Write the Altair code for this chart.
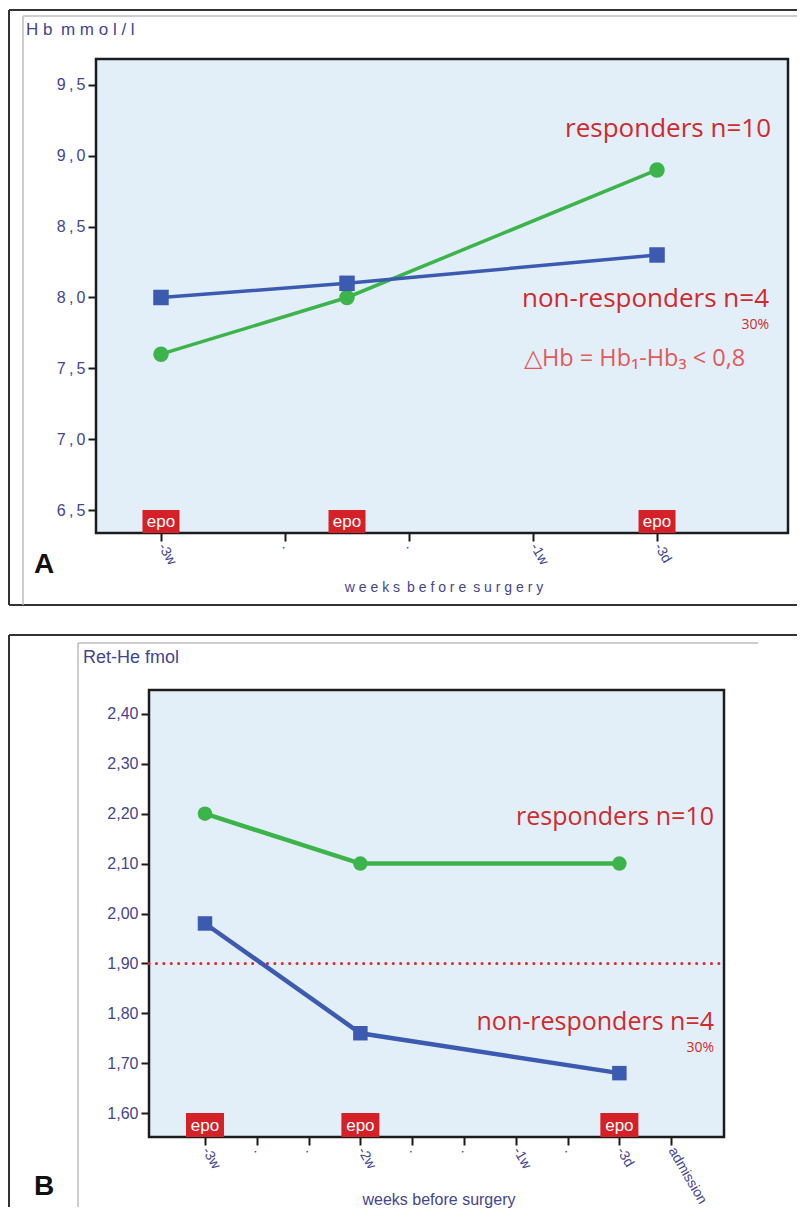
import json
import altair as alt
import pandas as pd

# ---------------- data ----------------
groups = ["responders", "non-responders"]

# Panel A: Hb (mmol/l)
a_weeks = [0, 1.5, 4]
a_hb_responders = [7.6, 8.0, 8.9]
a_hb_nonresponders = [8.0, 8.1, 8.3]
a_epo_weeks = [0, 1.5, 4]
a_x_ticks = [0, 1, 2, 3, 4]
a_x_labels = ["-3w", ".", ".", "-1w", "-3d"]
a_y_ticks = [6.5, 7.0, 7.5, 8.0, 8.5, 9.0, 9.5]

# Panel B: Ret-He (fmol)
b_weeks = [0, 3, 8]
b_rethe_responders = [2.20, 2.10, 2.10]
b_rethe_nonresponders = [1.98, 1.76, 1.68]
b_epo_weeks = [0, 3, 8]
b_threshold = [1.90]
b_x_ticks = [0, 1, 2, 3, 4, 5, 6, 7, 8, 9]
b_x_labels = ["-3w", ".", ".", "-2w", ".", ".", "-1w", ".", "-3d", "admission"]
b_y_ticks = [1.6, 1.7, 1.8, 1.9, 2.0, 2.1, 2.2, 2.3, 2.4]

# ---------------- styles ----------------
GREEN = "#3cb44b"
BLUE = "#3c5bb0"
RED = "#cf2a2e"
LIGHTRED = "#e05a5a"
EPO = "#d42027"
NAVY = "#45458f"
BG = "#e3eff8"
FRAME = "#333333"
INNER = "#bdbdbd"
SANS = "Liberation Sans"
ANN = "Open Sans"


def long_df(weeks, resp, nonresp):
    rows = []
    for w, v in zip(weeks, resp):
        rows.append({"week": w, "value": v, "group": "responders"})
    for w, v in zip(weeks, nonresp):
        rows.append({"week": w, "value": v, "group": "non-responders"})
    return pd.DataFrame(rows)


def one():
    return pd.DataFrame({"k": [0]})


def rule(x1, x2, y1, y2, color, width):
    return alt.Chart(one()).mark_rule(color=color, strokeWidth=width).encode(
        x=alt.value(x1), x2=alt.value(x2), y=alt.value(y1), y2=alt.value(y2)
    )


def plotbox(x1, x2, h):
    return alt.Chart(one()).mark_rect(fill=BG, stroke="#1c1c1c", strokeWidth=2.5).encode(
        x=alt.value(x1), x2=alt.value(x2), y=alt.value(0), y2=alt.value(h)
    )


def label(text, x, y, size, color, align="left", font=SANS, weight="normal"):
    return alt.Chart(one()).mark_text(
        text=text, align=align, baseline="alphabetic", fontSize=size,
        color=color, font=font, fontWeight=weight
    ).encode(x=alt.value(x), y=alt.value(y))


def spaced(s):
    return "\u2002".join(" ".join(list(w)) for w in s.split(" "))


def panel(df, epo_weeks, H, xdom, ydom, xticks, xlabels, yticks, ylabel_expr,
          line_w, pt_size, box_w, box_h, tick_font, ylab_size, y_offset=0):
    xscale = alt.Scale(domain=xdom, nice=False, zero=False)
    yscale = alt.Scale(domain=ydom, nice=False, zero=False)
    xaxis = alt.Axis(
        values=xticks, labelExpr=json.dumps(xlabels) + "[datum.value]", title=None,
        grid=False, domain=False, tickColor="#1a1a1a", tickWidth=2, tickSize=8,
        labelAngle=60, labelColor=NAVY, labelFontSize=tick_font, labelFont=SANS,
        labelPadding=3, labelOverlap=False, labelBound=False
    )
    yaxis = alt.Axis(
        values=yticks, labelExpr=ylabel_expr, title=None, grid=False, domain=False,
        tickColor="#1a1a1a", tickWidth=2, tickSize=8, labelColor=NAVY,
        labelFontSize=ylab_size, labelFont=SANS, labelPadding=3, labelOverlap=False,
        offset=y_offset
    )
    color = alt.Color("group:N", scale=alt.Scale(domain=groups, range=[GREEN, BLUE]), legend=None)
    shape = alt.Shape("group:N", scale=alt.Scale(domain=groups, range=["circle", "square"]), legend=None)

    base = alt.Chart(df)
    lines = base.mark_line(strokeWidth=line_w).encode(
        x=alt.X("week:Q", scale=xscale, axis=xaxis),
        y=alt.Y("value:Q", scale=yscale, axis=yaxis),
        color=color, detail="group:N",
    )
    points = base.mark_point(filled=True, opacity=1, size=pt_size).encode(
        x="week:Q", y="value:Q", color=color, shape=shape
    )
    epo_df = pd.DataFrame({"week": epo_weeks})
    r = box_h / box_w
    box_shape = f"M-1,-{r:.4f}L1,-{r:.4f}L1,{r:.4f}L-1,{r:.4f}Z"
    boxes = alt.Chart(epo_df).mark_point(
        shape=box_shape, filled=True, opacity=1, size=box_w * box_w, color=EPO, strokeWidth=0
    ).encode(x="week:Q", y=alt.value(H - box_h / 2))
    epo_txt = alt.Chart(epo_df).mark_text(
        text="epo", color="white", fontSize=17, font=SANS, baseline="middle"
    ).encode(x="week:Q", y=alt.value(H - box_h / 2 + 0.5))
    return lines, points, boxes, epo_txt


# ---------------- panel A (plot origin = page (95, 59)) ----------------
WA, HA = 692, 474
dfA = long_df(a_weeks, a_hb_responders, a_hb_nonresponders)
linesA, pointsA, boxesA, epoA = panel(
    dfA, a_epo_weeks, HA, [-0.524, 5.056], [6.338, 9.683], a_x_ticks, a_x_labels,
    a_y_ticks, "replace(format(datum.value, '.1f'), '.', '\u2009,\u2009')",
    3.5, 240, 37, 23, 14, 16
)
chartA = alt.layer(
    plotbox(0, WA, HA),
    rule(-87, 701, -49, -49, FRAME, 2),
    rule(-87, 701, 546, 546, FRAME, 2),
    rule(-87, -87, -49, 546, FRAME, 2),
    rule(-73, 701, -43, -43, INNER, 1.5),
    rule(-73, -73, -43, 546, INNER, 1.5),
    label(spaced("Hb mmol/l"), -70, -24, 17, NAVY),
    label(spaced("weeks before surgery"), 348, 533, 14, NAVY, align="center"),
    label("A", -62, 514, 28, "#111111", font=SANS, weight="bold"),
    label("responders n=10", 675, 78, 26, RED, align="right", font=ANN),
    label("non-responders n=4", 673, 248, 26, RED, align="right", font=ANN),
    label("30%", 673, 270, 14, RED, align="right", font=ANN),
    label("\u25b3Hb = Hb\u2081-Hb\u2083 < 0,8", 428, 307, 23.5, LIGHTRED, font=ANN),
    boxesA, epoA, linesA, pointsA,
).properties(width=WA, height=HA)

# ---------------- panel B (view origin = page (95, 690); visible box from x=148) ----------------
WB, HB = 628, 447
BX = 53  # visible plot box starts 53px right of the view origin
dfB = long_df(b_weeks, b_rethe_responders, b_rethe_nonresponders)
linesB, pointsB, boxesB, epoB = panel(
    dfB, b_epo_weeks, HB, [-2.104, 10.02], [1.552, 2.448], b_x_ticks, b_x_labels,
    b_y_ticks, "replace(format(datum.value, '.2f'), '.', ',')",
    4.5, 210, 38, 24, 14, 16, y_offset=-BX
)
thr = alt.Chart(pd.DataFrame({"value": b_threshold})).mark_rule(
    color="#e0282e", strokeWidth=3, strokeDash=[0.1, 7.3], strokeCap="round"
).encode(y="value:Q", x=alt.value(BX), x2=alt.value(WB))

chartB = alt.layer(
    plotbox(BX, WB, HB),
    rule(-87, 701, -55, -55, FRAME, 2),
    rule(-87, -87, -55, 517, FRAME, 2),
    rule(-18, 662, -47, -47, INNER, 1.5),
    rule(-18, -18, -47, 517, INNER, 1.5),
    label("Ret-He fmol", -13, -27, 18, NAVY),
    label("weeks before surgery", 343, 515, 16, NAVY, align="center"),
    label("B", -62, 505, 28, "#111111", font=SANS, weight="bold"),
    label("responders n=10", 618, 135, 25, RED, align="right", font=ANN),
    label("non-responders n=4", 618, 340, 25, RED, align="right", font=ANN),
    label("30%", 618, 362, 14, RED, align="right", font=ANN),
    thr, boxesB, epoB, linesB, pointsB,
).properties(width=WB, height=HB)

chart = alt.vconcat(chartA, chartB, spacing=28).properties(
    padding={"left": 0, "right": 0, "top": 1, "bottom": 0}
).configure_view(stroke="transparent", strokeWidth=0)

chart.save("out.html", embed_options={"renderer": "svg", "actions": False})
